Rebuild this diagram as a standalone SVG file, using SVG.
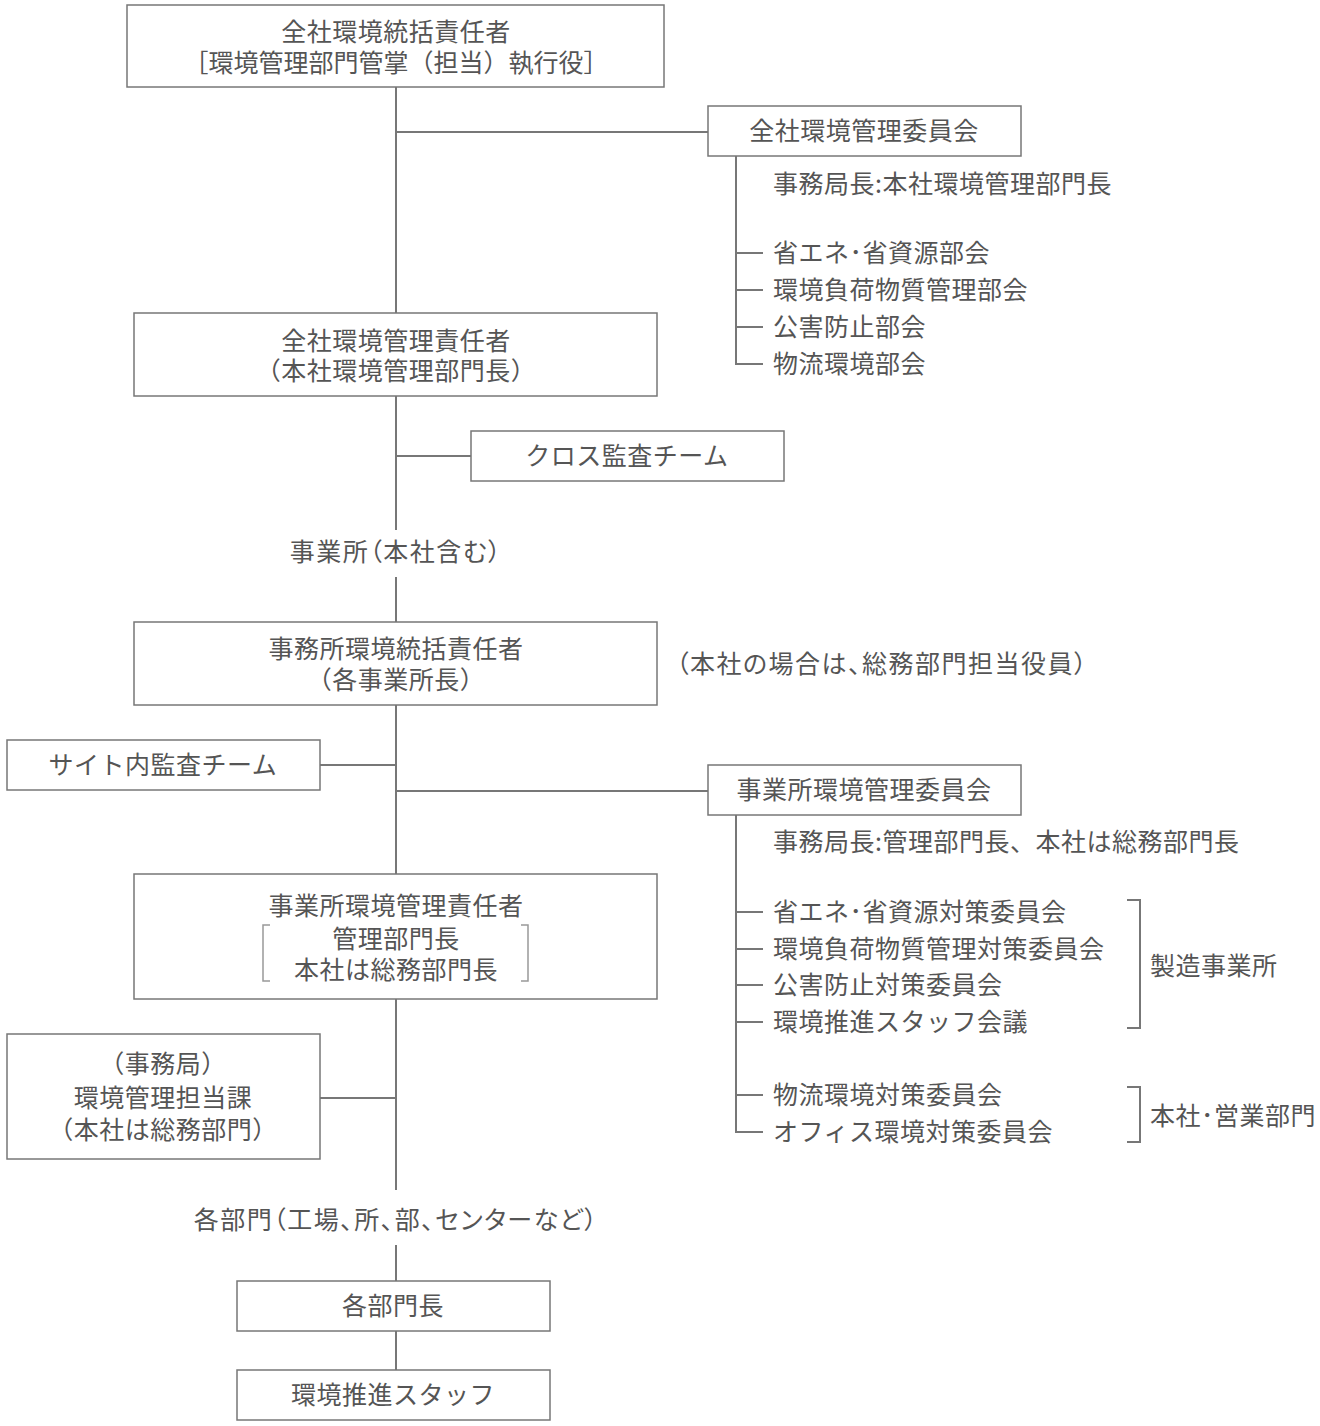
<svg xmlns="http://www.w3.org/2000/svg" width="1320" height="1426" viewBox="0 0 1320 1426">
<style>
text{font-family:"Noto Sans CJK JP","Noto Sans CJK SC",sans-serif;font-size:25px;fill:#555;letter-spacing:0.5px}
.c{text-anchor:middle}
.t{letter-spacing:0}
.p{font-feature-settings:"palt";letter-spacing:1.5px}
.box{fill:#fff;stroke:#777;stroke-width:1.5}
.ln{stroke:#777;stroke-width:2;fill:none}
.br{stroke:#999;stroke-width:1.5;fill:none}
</style>
<rect width="1320" height="1426" fill="#fff"/>
<g id="connectors">
<path class="ln" d="M396 87V313M396 132H708M396 396V530M396 456H471M396 577V622M396 705V874M396 765H320M396 791H708M396 999V1190M396 1098H320M396 1245V1281M396 1331V1370"/>
<path class="ln" d="M736 156V364H763M736 253H763M736 290H763M736 327H763"/>
<path class="ln" d="M736 815V1132H763M736 912H763M736 949H763M736 985H763M736 1022H763M736 1095H763"/>
<path class="ln" d="M1127 900H1140V1028H1127M1127 1087H1140V1142H1127"/>
</g>
<g id="n1"><rect class="box" x="127" y="5" width="537" height="82"/>
<text class="c" x="396" y="41">全社環境統括責任者</text><text class="c t" x="396" y="72">［環境管理部門管掌（担当）執行役］</text></g>
<g id="n2"><rect class="box" x="708" y="106" width="313" height="50"/><text class="c" x="864" y="140">全社環境管理委員会</text></g>
<g id="n2sub">
<text x="773" y="193">事務局長:本社環境管理部門長</text>
<text x="773" y="262">省エネ･省資源部会</text>
<text x="773" y="299">環境負荷物質管理部会</text>
<text x="773" y="336">公害防止部会</text>
<text x="773" y="373">物流環境部会</text>
</g>
<g id="n3"><rect class="box" x="134" y="313" width="523" height="83"/>
<text class="c" x="396" y="350">全社環境管理責任者</text><text class="c" x="396" y="380">（本社環境管理部門長）</text></g>
<g id="n4"><rect class="box" x="471" y="431" width="313" height="50"/><text class="c" x="627" y="465">クロス監査チーム</text></g>
<g id="n5"><text class="c p" x="396" y="561">事業所（本社含む）</text></g>
<g id="n6"><rect class="box" x="134" y="622" width="523" height="83"/>
<text class="c" x="396" y="658">事務所環境統括責任者</text><text class="c" x="396" y="689">（各事業所長）</text>
<text class="p" x="676" y="673">（本社の場合は、総務部門担当役員）</text></g>
<g id="n7"><rect class="box" x="7" y="740" width="313" height="50"/><text class="c" x="163" y="774">サイト内監査チーム</text></g>
<g id="n8"><rect class="box" x="708" y="765" width="313" height="50"/><text class="c" x="864" y="799">事業所環境管理委員会</text></g>
<g id="n8sub">
<text x="773" y="851">事務局長:管理部門長、本社は総務部門長</text>
<text x="773" y="921">省エネ･省資源対策委員会</text>
<text x="773" y="958">環境負荷物質管理対策委員会</text>
<text x="773" y="994">公害防止対策委員会</text>
<text x="773" y="1031">環境推進スタッフ会議</text>
<text x="1150" y="975">製造事業所</text>
<text x="773" y="1104">物流環境対策委員会</text>
<text x="773" y="1141">オフィス環境対策委員会</text>
<text x="1150" y="1125">本社･営業部門</text>
</g>
<g id="n9"><rect class="box" x="134" y="874" width="523" height="125"/>
<text class="c" x="396" y="915">事業所環境管理責任者</text>
<text class="c" x="396" y="948">管理部門長</text>
<text class="c" x="396" y="979">本社は総務部門長</text>
<path class="br" d="M270 925H263V981H270M521 925H528V981H521"/></g>
<g id="n10"><rect class="box" x="7" y="1034" width="313" height="125"/>
<text class="c" x="163" y="1073">（事務局）</text><text class="c" x="163" y="1107">環境管理担当課</text><text class="c" x="163" y="1139">（本社は総務部門）</text></g>
<g id="n11"><text class="c p" x="396" y="1229">各部門（工場、所、部、センターなど）</text></g>
<g id="n12"><rect class="box" x="237" y="1281" width="313" height="50"/><text class="c" x="393" y="1315">各部門長</text></g>
<g id="n13"><rect class="box" x="237" y="1370" width="313" height="50"/><text class="c" x="393" y="1404">環境推進スタッフ</text></g>
</svg>
